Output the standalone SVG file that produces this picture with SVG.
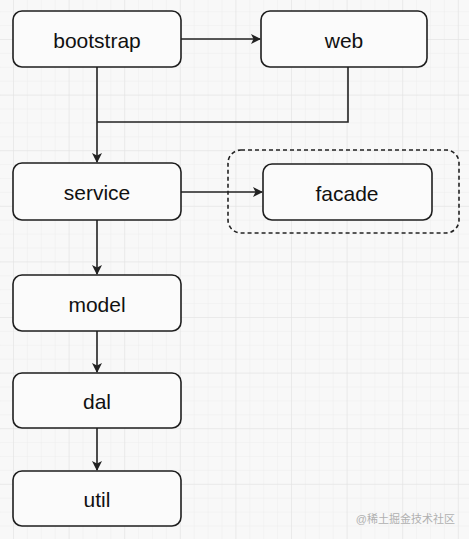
<svg xmlns="http://www.w3.org/2000/svg" width="469" height="539" viewBox="0 0 469 539">
<style>
.box{fill:#fbfbfb;stroke:#1e1e1e;stroke-width:1.6}
.lbl{font-family:"Liberation Sans",Arial,sans-serif;font-size:21px;fill:#111;text-anchor:middle;dominant-baseline:central}
.edge{fill:none;stroke:#222;stroke-width:1.6}
</style>
<defs>
<pattern id="minor" width="13.9" height="13.9" patternUnits="userSpaceOnUse" x="13" y="39">
<path d="M0 0H13.9M0 0V13.9" fill="none" stroke="#ededed" stroke-width="1"/>
</pattern>
<pattern id="major" width="55.6" height="55.6" patternUnits="userSpaceOnUse" x="13" y="39">
<path d="M0 0H55.6M0 0V55.6" fill="none" stroke="#e2e2e2" stroke-width="1"/>
</pattern>
<marker id="arr" viewBox="0 0 10 10" refX="9" refY="5" markerWidth="10" markerHeight="10" markerUnits="userSpaceOnUse" orient="auto">
<path d="M0 0L10 5L0 10L2.5 5Z" fill="#222"/>
</marker>
</defs>
<rect width="469" height="539" fill="#f8f8f8"/>
<rect width="469" height="539" fill="url(#minor)"/>
<rect width="469" height="539" fill="url(#major)"/>
<g id="edges">
<path class="edge" d="M181 39H260" marker-end="url(#arr)"/>
<path class="edge" d="M348 67V122H97"/>
<path class="edge" d="M97 67V162" marker-end="url(#arr)"/>
<path class="edge" d="M181 192H262" marker-end="url(#arr)"/>
<path class="edge" d="M97 220V274" marker-end="url(#arr)"/>
<path class="edge" d="M97 331V372" marker-end="url(#arr)"/>
<path class="edge" d="M97 428V470" marker-end="url(#arr)"/>
</g>
<g id="facade-group">
<rect x="228" y="150" width="231" height="83" rx="13" fill="none" stroke="#222" stroke-width="1.6" stroke-dasharray="4 3"/>
</g>
<g id="bootstrap"><rect class="box" x="13" y="11" width="168" height="56" rx="9"/><text class="lbl" x="97" y="40">bootstrap</text></g>
<g id="web"><rect class="box" x="261" y="11" width="166" height="56" rx="9"/><text class="lbl" x="344" y="40">web</text></g>
<g id="service"><rect class="box" x="13" y="163" width="168" height="57" rx="9"/><text class="lbl" x="97" y="192">service</text></g>
<g id="facade"><rect class="box" x="263" y="164" width="169" height="56" rx="9"/><text class="lbl" x="347" y="193">facade</text></g>
<g id="model"><rect class="box" x="13" y="275" width="168" height="56" rx="9"/><text class="lbl" x="97" y="304">model</text></g>
<g id="dal"><rect class="box" x="13" y="373" width="168" height="55" rx="9"/><text class="lbl" x="97" y="401">dal</text></g>
<g id="util"><rect class="box" x="13" y="471" width="168" height="55" rx="9"/><text class="lbl" x="97" y="499">util</text></g>
<text x="455" y="519" font-family="'Liberation Sans','Noto Sans CJK SC',sans-serif" font-size="11" fill="#b0b0b0" text-anchor="end" dominant-baseline="central">@稀土掘金技术社区</text>
</svg>
